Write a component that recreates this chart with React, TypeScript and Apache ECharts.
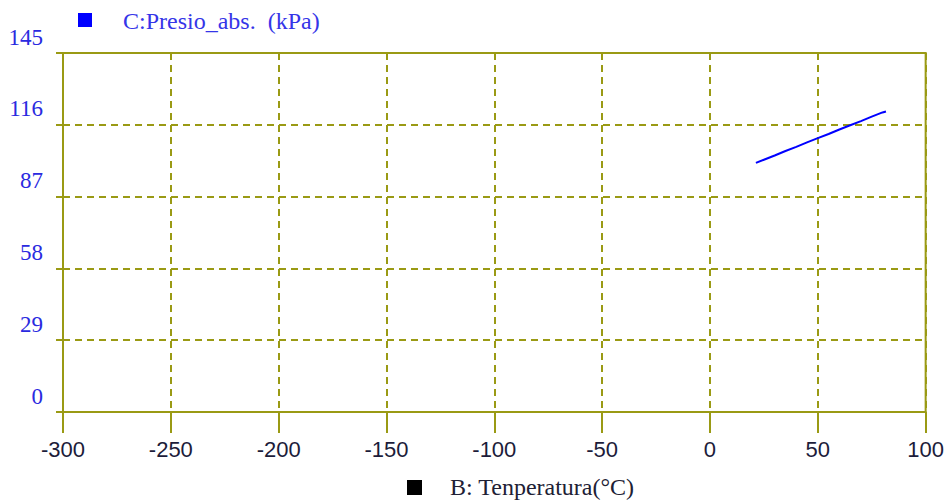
import React, { useEffect, useRef } from "react";
import * as echarts from "echarts";

const temperatures = [21.3, 25, 30, 35, 40, 45, 50, 55, 60, 65, 70, 75, 80, 81.6];
const pressures = [100.6, 101.9, 103.6, 105.4, 107.1, 108.9, 110.6, 112.3, 114.1, 115.8, 117.5, 119.3, 121.0, 121.4];
const yTicks = [0, 29, 58, 87, 116, 145];
const xRange = [-300, 100];
const seriesName = "C:Presio_abs.  (kPa)";
const xName = "B: Tenperatura(°C)";

const OLIVE = "#9a9a14";

export default function App() {
  const ref = useRef<HTMLDivElement>(null);
  useEffect(() => {
    if (!ref.current) return;
    const chart = echarts.init(ref.current, null, { renderer: "svg" });
    chart.setOption({
      animation: false,
      backgroundColor: "#ffffff",
      grid: {
        left: 63,
        right: 20,
        top: 53,
        bottom: 88,
        show: true,
        borderColor: OLIVE,
        borderWidth: 2,
        backgroundColor: "transparent",
      },
      xAxis: {
        type: "value",
        min: xRange[0],
        max: xRange[1],
        interval: 50,
        axisLine: { show: true, onZero: false, lineStyle: { color: OLIVE, width: 2 } },
        axisTick: { show: true, length: 21, lineStyle: { color: OLIVE, width: 2 } },
        splitLine: { show: true, lineStyle: { color: OLIVE, width: 2, type: [7, 5] } },
        axisLabel: {
          margin: 26,
          color: "#1c1c3a",
          fontFamily: "Liberation Sans",
          fontSize: 22,
        },
      },
      yAxis: {
        type: "value",
        min: yTicks[0],
        max: yTicks[yTicks.length - 1],
        interval: 29,
        axisLine: { show: true, onZero: false, lineStyle: { color: OLIVE, width: 2 } },
        axisTick: { show: true, length: 7, lineStyle: { color: OLIVE, width: 2 } },
        splitLine: { show: true, lineStyle: { color: OLIVE, width: 2, type: [7, 5] } },
        axisLabel: {
          margin: 20,
          color: "#2a2ae0",
          fontFamily: "Liberation Serif",
          fontSize: 23,
          verticalAlign: "bottom",
          lineHeight: 32,
        },
      },
      series: [
        {
          name: seriesName,
          type: "line",
          data: temperatures.map((t, i) => [t, pressures[i]]),
          showSymbol: false,
          lineStyle: { color: "#0000ff", width: 2 },
          itemStyle: { color: "#0000ff" },
        },
      ],
      graphic: [
        { type: "rect", shape: { x: 78, y: 13, width: 14, height: 14 }, style: { fill: "#0000ff" } },
        {
          type: "text",
          x: 123,
          y: 21,
          style: {
            text: seriesName,
            fill: "#3535e8",
            font: "24px 'Liberation Serif'",
            verticalAlign: "middle",
          },
        },
        { type: "rect", shape: { x: 407, y: 480, width: 15, height: 15 }, style: { fill: "#000000" } },
        {
          type: "text",
          x: 450,
          y: 487,
          style: {
            text: xName,
            fill: "#202034",
            font: "24px 'Liberation Serif'",
            verticalAlign: "middle",
          },
        },
      ],
    });
    return () => chart.dispose();
  }, []);
  return <div ref={ref} style={{ width: 947, height: 500, position: "absolute", left: 0, top: 0 }} />;
}
